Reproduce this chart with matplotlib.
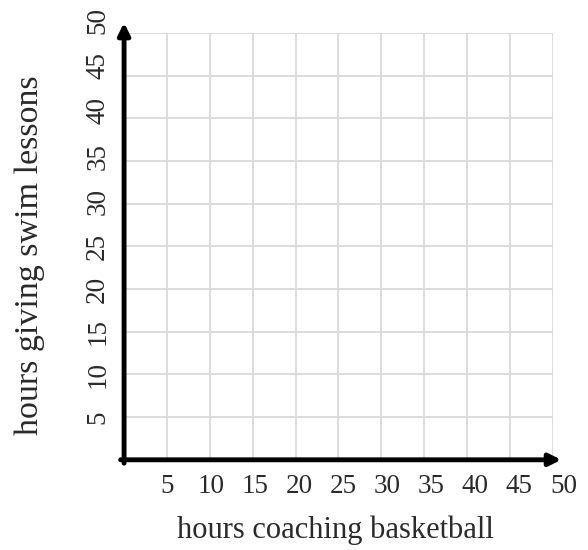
import matplotlib.pyplot as plt
import matplotlib.transforms as mtransforms
import numpy as np

# valores dos eixos
x_ticks = [5, 10, 15, 20, 25, 30, 35, 40, 45, 50]
y_ticks = [5, 10, 15, 20, 25, 30, 35, 40, 45, 50]
x_label = 'hours coaching basketball'
y_label = 'hours giving swim lessons'

plt.rcParams['font.family'] = ['Liberation Serif', 'DejaVu Serif']

fig = plt.figure(figsize=(5.88, 5.5), dpi=100)
ax = fig.add_axes([0.211, 0.164, 0.729, 0.776])

ax.set_xlim(0, 50)
ax.set_ylim(0, 50)

# grade
for v in x_ticks:
    ax.axvline(v, color='#d9d9d9', linewidth=1.3, zorder=1)
for v in y_ticks:
    ax.axhline(v, color='#d9d9d9', linewidth=1.3, zorder=1)

for s in ax.spines.values():
    s.set_visible(False)

# eixos com setas
arrow = dict(arrowstyle='-|>,head_length=0.7,head_width=0.35', color='black',
             linewidth=3.5, shrinkA=0, shrinkB=0)
ax.annotate('', xy=(51, 0), xytext=(-0.4, 0), arrowprops=arrow,
            annotation_clip=False, zorder=3)
ax.annotate('', xy=(0, 51.2), xytext=(0, -0.4), arrowprops=arrow,
            annotation_clip=False, zorder=3)

ax.set_xticks(x_ticks)
ax.set_yticks(y_ticks)
ax.set_xticklabels([str(v) for v in x_ticks])
ax.set_yticklabels([str(v) for v in y_ticks], rotation=90, va='center')
ax.tick_params(length=0, labelsize=19.5, labelcolor='#2a2a2a')
ax.tick_params(axis='x', pad=10)
ax.tick_params(axis='y', pad=10)

# os rótulos do original ficam um pouco mais espaçados que a grade
for v, lab in zip(x_ticks, ax.get_xticklabels()):
    dx = 1.2 * (v / 5 - 1) / 100
    lab.set_transform(lab.get_transform() +
                      mtransforms.ScaledTranslation(dx, 0, fig.dpi_scale_trans))
for v, lab in zip(y_ticks, ax.get_yticklabels()):
    dy = max(0, v - 25) * 0.5 / 100
    lab.set_transform(lab.get_transform() +
                      mtransforms.ScaledTranslation(0, dy, fig.dpi_scale_trans))

ax.set_xlabel(x_label, fontsize=22, color='#2a2a2a', va='center')
ax.set_ylabel(y_label, fontsize=24.5, color='#2a2a2a', va='center')
ax.xaxis.set_label_coords(0.492, -0.164)
ax.yaxis.set_label_coords(-0.221, 0.48)

plt.savefig('out.png', dpi=100)
